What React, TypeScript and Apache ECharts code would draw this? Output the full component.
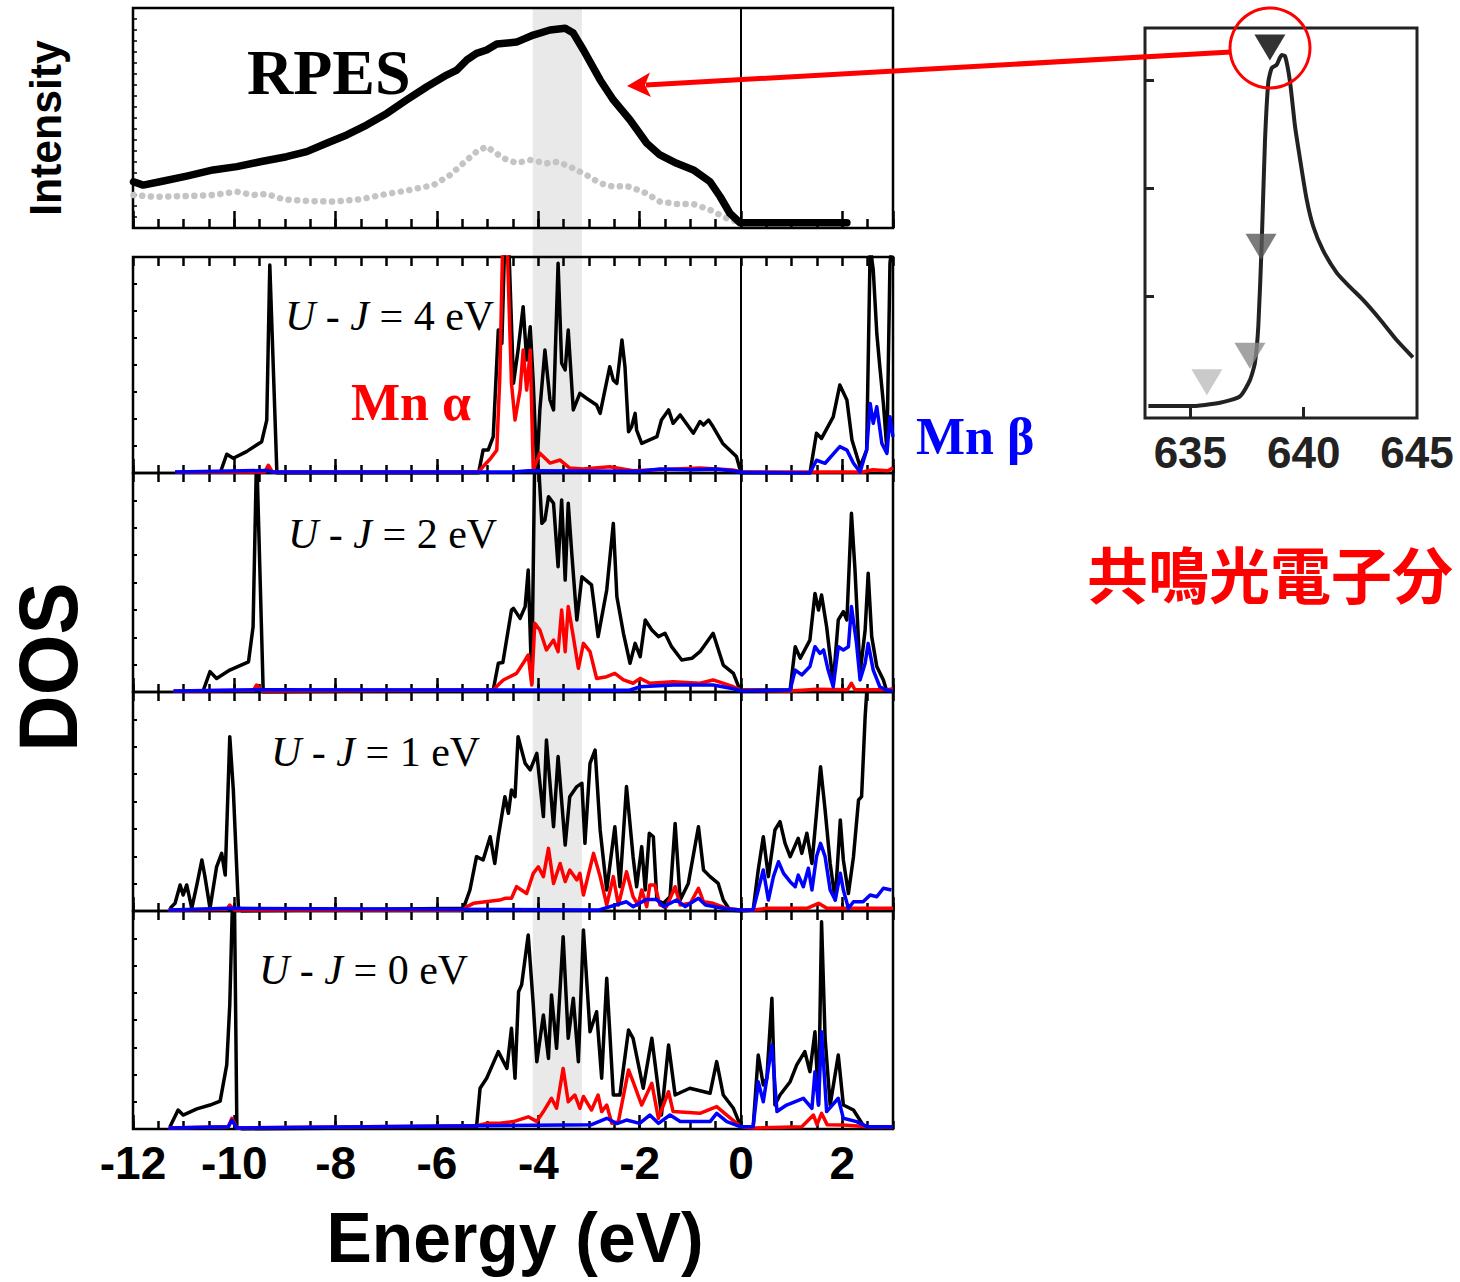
import React, { useEffect, useRef } from "react";
import * as echarts from "echarts";

// ---------------- data ----------------
const energyMin = -12;
const energyMax = 3;
const shadedBand = [-4.11, -3.14];

const rpesOnResonance = [
  [-11.99, 21.0], [-11.8, 19.5], [-11.47, 21.0], [-10.94, 23.6], [-10.42, 26.4], [-9.95, 27.9], [-9.49, 30.1],
  [-8.97, 32.4], [-8.57, 34.7], [-8.18, 38.5], [-7.78, 42.3], [-7.39, 46.8], [-6.99, 52.1], [-6.6, 58.2],
  [-6.2, 64.2], [-5.81, 69.5], [-5.61, 71.8], [-5.41, 76.4], [-5.22, 79.4], [-5.02, 80.9], [-4.82, 83.6],
  [-4.43, 84.5], [-4.1, 87.7], [-3.77, 90.0], [-3.47, 90.8], [-3.31, 88.6], [-3.11, 80.9], [-2.78, 67.3],
  [-2.52, 58.2], [-2.19, 49.1], [-1.86, 38.5], [-1.6, 33.2], [-1.27, 29.4], [-0.94, 26.4], [-0.61, 21.0],
  [-0.41, 14.2], [-0.22, 6.7], [-0.02, 2.4], [0.51, 2.4], [2.09, 2.4],
];
const rpesOffResonance = [
  [-11.99, 15.0], [-11.6, 14.2], [-10.94, 14.5], [-10.42, 15.0], [-9.95, 16.5], [-9.63, 15.0], [-9.36, 15.5],
  [-9.03, 13.0], [-8.57, 12.3], [-8.05, 12.0], [-7.52, 13.0], [-6.99, 15.5], [-6.6, 17.0], [-6.07, 19.5],
  [-5.74, 24.1], [-5.41, 30.9], [-5.22, 34.7], [-5.02, 37.0], [-4.69, 31.7], [-4.43, 29.5], [-4.16, 30.9],
  [-3.84, 29.4], [-3.61, 30.1], [-3.31, 27.1], [-3.05, 24.1], [-2.78, 20.3], [-2.52, 18.8], [-2.26, 19.1],
  [-1.93, 16.5], [-1.6, 12.0], [-1.27, 10.9], [-0.94, 10.9], [-0.61, 8.2], [-0.28, 4.4], [-0.03, 2.4],
];

// U - J = 4 eV
const dosU4Total = [
  [-10.28, 0], [-10.15, 8.7], [-10.02, 6.8], [-9.76, 9.9], [-9.46, 14.5], [-9.36, 24.5], [-9.3, 96.3], [-9.16, 0],
  [-5.18, 0], [-5.09, 10.6], [-4.99, 10.6], [-4.89, 16.8], [-4.79, 66.2], [-4.72, 60], [-4.66, 110], [-4.59, 110],
  [-4.49, 41.5], [-4.4, 56.9], [-4.3, 77], [-4.23, 52.3], [-4.16, 67.7], [-4.1, 41.6], [-4.03, 1.4], [-3.97, 29.2],
  [-3.87, 56.9], [-3.77, 33.8], [-3.7, 29.2], [-3.61, 97.1], [-3.54, 50.8], [-3.47, 47.7], [-3.41, 66.2],
  [-3.31, 29.2], [-3.18, 36.9], [-3.05, 34.6], [-2.85, 31.5], [-2.78, 27.6], [-2.59, 49.2], [-2.52, 43],
  [-2.45, 41.5], [-2.35, 61.6], [-2.29, 49.2], [-2.22, 19.1], [-2.16, 21.4], [-2.09, 27.6], [-2.06, 19.9],
  [-1.96, 13.7], [-1.66, 16.8], [-1.57, 24.5], [-1.43, 29.2], [-1.34, 23], [-1.2, 26.9], [-0.94, 18.4],
  [-0.81, 23.8], [-0.74, 22.2], [-0.64, 24.5], [-0.55, 21.4], [-0.36, 13.7], [-0.09, 7.6], [0, 0],
  [1.36, 0], [1.49, 18.4], [1.59, 16], [1.82, 26], [1.95, 40.7], [2.09, 33.8], [2.19, 15.3], [2.35, 2.9],
  [2.48, 10.6], [2.55, 105], [2.61, 94], [2.68, 64.7], [2.74, 49.2], [2.81, 32.2], [2.88, 10.6], [2.94, 97], [3.0, 110],
];
const dosU4MnA = [
  [-11.17, 0.5], [-9.4, 0.5], [-9.33, 3.6], [-9.25, 0.5], [-5.18, 0.5], [-5.09, 3], [-4.95, 6.5], [-4.82, 10.6],
  [-4.76, 44.6], [-4.7, 110], [-4.62, 110], [-4.53, 41.5], [-4.46, 24.5], [-4.36, 38.4], [-4.3, 56.9],
  [-4.23, 38.4], [-4.16, 56.9], [-4.1, 1.4], [-3.97, 9.2], [-3.77, 4.6], [-3.57, 6.0], [-3.38, 2.3],
  [-3.12, 1.9], [-2.59, 2.9], [-2.13, 1.0], [-0.81, 2.3], [-0.16, 1.4], [0, 0.5], [2.4, 0.5], [2.6, 1.5],
  [2.9, 1.0], [3.0, 2.5],
];
const dosU4MnB = [
  [-11.17, 0.5], [-9.35, 1.2], [-9.25, 0.5], [-4.5, 0.5], [-4.2, 1.0], [-2.0, 0.8], [-1.6, 1.8], [-1.0, 1.5],
  [-0.5, 1.8], [-0.1, 0.8], [0, 0.3], [1.36, 0], [1.49, 5.9], [1.66, 4.5], [1.95, 12.2], [2.09, 10.6],
  [2.22, 4.5], [2.35, 0.5], [2.48, 10.6], [2.55, 32.2], [2.61, 23], [2.68, 30.7], [2.78, 13.7], [2.88, 9.1],
  [2.94, 26], [3.0, 16.8],
];

// U - J = 2 eV
const dosU2Total = [
  [-10.61, 0.9], [-10.48, 9.3], [-10.35, 6.2], [-10.09, 10], [-9.72, 13.8], [-9.63, 29.8], [-9.56, 110], [-9.43, 0],
  [-4.89, 0.9], [-4.79, 13.1], [-4.7, 13.5], [-4.53, 37.4], [-4.49, 38.2], [-4.36, 33.6], [-4.26, 39],
  [-4.2, 55.7], [-4.13, 4], [-4.07, 110], [-4.01, 110], [-3.93, 77], [-3.87, 78.5], [-3.8, 89.2], [-3.7, 86.2],
  [-3.61, 57.2], [-3.54, 87.7], [-3.47, 51.1], [-3.41, 86.2], [-3.34, 63.3], [-3.24, 32.9], [-3.14, 52.6],
  [-2.95, 48.9], [-2.82, 25.3], [-2.65, 46.6], [-2.52, 77], [-2.45, 43.5], [-2.32, 26.8], [-2.19, 13.1],
  [-2.09, 22.2], [-1.99, 16.1], [-1.89, 32.9], [-1.76, 28.3], [-1.63, 25.3], [-1.5, 26.8], [-1.37, 20.7],
  [-1.17, 14.6], [-0.97, 15.4], [-0.81, 18.4], [-0.55, 26.8], [-0.35, 12.3], [-0.15, 8.5], [-0.02, 0.9],
  [0.97, 0.9], [1.07, 20.7], [1.17, 15.4], [1.36, 23.7], [1.46, 45], [1.53, 37.4], [1.59, 44.3], [1.69, 29.8],
  [1.82, 4], [1.92, 32.9], [2.02, 36.7], [2.09, 32.9], [2.18, 81.6], [2.25, 55.7], [2.35, 8.5], [2.45, 28.3],
  [2.51, 54.2], [2.58, 25.3], [2.68, 11.6], [2.81, 5.5], [2.87, 0.9],
];
const dosU2MnA = [
  [-11.2, 0.5], [-9.62, 0.8], [-9.56, 3.2], [-9.45, 0.5], [-4.89, 0.9], [-4.76, 4], [-4.69, 5.5], [-4.43, 8.5],
  [-4.3, 13.1], [-4.2, 16.9], [-4.13, 3.2], [-4.07, 31.4], [-3.97, 28.3], [-3.84, 19.2], [-3.7, 23.7],
  [-3.61, 18.4], [-3.54, 37.4], [-3.47, 18.4], [-3.41, 39], [-3.31, 25.3], [-3.21, 10.8], [-3.11, 22.2],
  [-2.98, 18.4], [-2.85, 6.2], [-2.65, 7], [-2.49, 8.5], [-2.32, 5.5], [-2.13, 4], [-1.99, 6.2], [-1.8, 4],
  [-1.34, 4.7], [-0.81, 4], [-0.55, 5.5], [-0.15, 2.4], [0, 0.9], [0.97, 0.5], [1.5, 1.2], [2.1, 1.0],
  [2.18, 4], [2.25, 1.0], [2.9, 1.0], [3.0, 1.5],
];
const dosU2MnB = [
  [-11.2, 0.5], [-9.56, 1], [-2.2, 0.8], [-1.99, 2.4], [-1.34, 3.2], [-0.55, 3.2], [-0.15, 1.5], [0, 0.5],
  [0.97, 0.9], [1.07, 10], [1.2, 7.8], [1.36, 11.6], [1.46, 20.7], [1.56, 17.6], [1.63, 19.2], [1.72, 10],
  [1.82, 2.4], [1.92, 20.7], [2.02, 19.2], [2.12, 20.7], [2.18, 39], [2.28, 22.2], [2.35, 5.5], [2.45, 13.1],
  [2.51, 22.2], [2.61, 10], [2.74, 2.4], [2.87, 0.9], [3.0, 0.5],
];

// U - J = 1 eV
const dosU1Total = [
  [-11.27, 1.2], [-11.17, 3.5], [-11.07, 11.9], [-11.01, 7.3], [-10.94, 11.9], [-10.84, 1.2], [-10.74, 11.9],
  [-10.64, 23.3], [-10.58, 15.7], [-10.48, 1.2], [-10.35, 20.2], [-10.25, 26.3], [-10.18, 16.4], [-10.09, 79.6],
  [-10.02, 55.3], [-9.92, 1.9], [-9.85, 0],
  [-5.48, 1.2], [-5.35, 9.6], [-5.22, 24.8], [-5.09, 23.3], [-4.95, 33.9], [-4.86, 21.7], [-4.79, 33.9],
  [-4.66, 52.2], [-4.59, 44.6], [-4.53, 55.3], [-4.46, 52.2], [-4.4, 79.6], [-4.26, 67.4], [-4.16, 64.4],
  [-4.03, 72], [-3.9, 43.1], [-3.84, 78.1], [-3.7, 38.5], [-3.61, 70.5], [-3.47, 30.1], [-3.38, 52.2],
  [-3.24, 56.8], [-3.14, 58.3], [-3.08, 30.9], [-2.98, 67.4], [-2.88, 73.5], [-2.78, 37], [-2.65, 9.6],
  [-2.49, 38.5], [-2.39, 11.1], [-2.26, 56.8], [-2.13, 24.8], [-2.06, 11.1], [-1.96, 29.4], [-1.89, 9.6],
  [-1.81, 35.5], [-1.73, 33.9], [-1.66, 5], [-1.53, 3.5], [-1.4, 6.5], [-1.3, 40], [-1.2, 5], [-1.04, 12.6],
  [-0.84, 38.5], [-0.74, 18.7], [-0.61, 15.7], [-0.45, 12.6], [-0.35, 5], [-0.22, 0.5], [0, 0],
  [0.24, 0.5], [0.34, 18.7], [0.44, 33.9], [0.54, 15.7], [0.67, 37], [0.77, 40.8], [0.87, 30.9], [0.97, 24.8],
  [1.03, 27.9], [1.13, 33.2], [1.2, 26.3], [1.3, 35.5], [1.4, 21.7], [1.49, 44.6], [1.57, 65.9], [1.66, 46.1],
  [1.76, 21.7], [1.86, 5], [1.96, 41.6], [2.02, 23.3], [2.12, 8], [2.22, 24.8], [2.32, 50.7], [2.38, 52.2],
  [2.45, 88.7], [2.51, 110], [3.0, 110],
];
const dosU1MnA = [
  [-11.3, 0.5], [-10.15, 0.8], [-10.09, 2.7], [-10.0, 0.5], [-5.48, 0.5], [-5.41, 2], [-5.28, 3.5], [-4.76, 5],
  [-4.66, 5.8], [-4.53, 5.8], [-4.43, 11.1], [-4.23, 8], [-4.1, 17.2], [-4.0, 20.2], [-3.9, 15.7], [-3.8, 28.6],
  [-3.7, 12.6], [-3.57, 21.7], [-3.47, 13.4], [-3.38, 18.7], [-3.24, 14.2], [-3.18, 17.2], [-3.11, 7.3],
  [-2.91, 26.3], [-2.78, 15.7], [-2.65, 2.7], [-2.52, 15.7], [-2.42, 2.7], [-2.26, 17.9], [-2.13, 6.5],
  [-2.03, 2.7], [-1.96, 9.6], [-1.86, 2], [-1.8, 11.9], [-1.7, 11.9], [-1.6, 2.7], [-1.47, 2], [-1.3, 11.1],
  [-1.2, 2.7], [-1.0, 3.5], [-0.84, 10.4], [-0.74, 4.2], [-0.55, 3.5], [-0.28, 1.2], [0, 0.5],
  [0.24, 0.5], [0.5, 1.2], [1.3, 1.2], [1.53, 3.5], [1.7, 1.2], [3.0, 1.2],
];
const dosU1MnB = [
  [-11.3, 0.5], [-10.1, 1.2], [-2.8, 0.5], [-2.26, 4.2], [-2.13, 2], [-1.86, 5.3], [-1.66, 5.3], [-1.53, 2],
  [-1.27, 5], [-1.1, 2], [-0.84, 5.8], [-0.7, 2.7], [-0.3, 1], [0, 0.5],
  [0.24, 0.5], [0.34, 9.6], [0.44, 18.7], [0.54, 5], [0.64, 15.7], [0.74, 22.5], [0.84, 17.2], [0.97, 13.4],
  [1.07, 11.1], [1.13, 16.4], [1.23, 11.1], [1.33, 19.5], [1.4, 9.6], [1.49, 24.8], [1.57, 30.9], [1.66, 24.8],
  [1.76, 9.6], [1.86, 5], [1.96, 17.2], [2.02, 9.6], [2.12, 1.2], [2.22, 4.2], [2.41, 4.2], [2.55, 7.3],
  [2.68, 6.5], [2.81, 10.4], [2.97, 9.6],
];

// U - J = 0 eV
const dosU0Total = [
  [-11.27, 1], [-11.11, 8.7], [-11.01, 6.4], [-10.74, 9.2], [-10.48, 11], [-10.28, 12.8], [-10.15, 29.4],
  [-10.09, 57], [-10.03, 110], [-10.0, 110], [-9.95, 1], [-9.85, 0],
  [-5.22, 1], [-5.15, 18.7], [-5.02, 23.3], [-4.79, 35.5], [-4.62, 27.8], [-4.53, 46.2], [-4.46, 23.3],
  [-4.39, 63], [-4.33, 66.1], [-4.2, 89], [-4.1, 56.9], [-4.03, 30.9], [-3.9, 52.3], [-3.8, 32.4], [-3.74, 61.5],
  [-3.64, 37], [-3.51, 88.2], [-3.41, 41.6], [-3.31, 60], [-3.21, 30.9], [-3.11, 91.3], [-2.98, 44.6],
  [-2.85, 53.8], [-2.75, 23.3], [-2.65, 69.1], [-2.52, 15.6], [-2.39, 15.6], [-2.22, 45.4], [-2.13, 41.6],
  [-1.93, 18.7], [-1.76, 41.6], [-1.66, 23.3], [-1.57, 6.4], [-1.43, 38.5], [-1.3, 15.6], [-1.01, 18.7],
  [-0.61, 16.4], [-0.48, 30.9], [-0.35, 15.6], [-0.15, 9.5], [0, 1],
  [0.24, 1], [0.34, 33.9], [0.44, 20.2], [0.51, 23.3], [0.61, 60], [0.67, 11], [0.77, 15.6], [0.97, 21.7],
  [1.1, 29.4], [1.26, 35.5], [1.36, 26.3], [1.46, 44.6], [1.53, 11], [1.59, 95.1], [1.66, 41.6], [1.76, 11],
  [1.92, 33.9], [2.02, 11], [2.22, 8.7], [2.41, 1.8], [2.5, 0.5],
];
const dosU0MnA = [
  [-11.3, 0.5], [-10.12, 1], [-10.05, 4.9], [-9.95, 0.5], [-5.22, 1.5], [-5.02, 2.6], [-4.76, 2.6], [-4.49, 3.4],
  [-4.2, 5.6], [-4.03, 3.5], [-3.9, 8], [-3.74, 14.1], [-3.64, 9.5], [-3.51, 27.8], [-3.41, 12.5], [-3.28, 15.6],
  [-3.18, 9.5], [-3.11, 14.9], [-2.95, 8.7], [-2.82, 15.6], [-2.75, 8], [-2.65, 11], [-2.55, 2.6], [-2.42, 3.4],
  [-2.22, 27.1], [-2.13, 21.7], [-1.96, 11], [-1.76, 21], [-1.63, 4.9], [-1.43, 17.1], [-1.34, 8], [-0.81, 7.2],
  [-0.48, 10.3], [-0.28, 6.4], [0, 1], [0.24, 0.5], [1.2, 1], [1.43, 6.4], [1.5, 2], [1.59, 7.2], [1.7, 2],
  [2.02, 1.8], [2.5, 1], [3.0, 1],
];
const dosU0MnB = [
  [-11.3, 0.5], [-10.12, 1], [-10.05, 4], [-9.95, 0.5], [-2.95, 2], [-2.65, 4.9], [-2.45, 2.5], [-2.26, 4.1],
  [-2.0, 2.6], [-1.8, 6.4], [-1.63, 2.6], [-1.4, 6.4], [-1.2, 3.4], [-0.61, 3.4], [-0.48, 7.2], [-0.28, 3.4],
  [0, 1], [0.24, 1], [0.34, 21.7], [0.44, 12.5], [0.54, 27.8], [0.61, 38.5], [0.71, 8], [0.9, 11], [1.23, 14.1],
  [1.4, 9.5], [1.46, 26.3], [1.53, 11], [1.59, 44.6], [1.69, 8], [1.92, 14.1], [2.02, 4.9], [2.28, 3.4],
  [2.5, 1], [3.0, 1],
];

const panelUJ = ["4", "2", "1", "0"];
const dosTotal = [dosU4Total, dosU2Total, dosU1Total, dosU0Total];
const dosMnAlpha = [dosU4MnA, dosU2MnA, dosU1MnA, dosU0MnA];
const dosMnBeta = [dosU4MnB, dosU2MnB, dosU1MnB, dosU0MnB];

// Mn L3 absorption (inset)
const xasPhotonEnergy = [
  633.15, 634.98, 636.31, 637.19, 637.63, 637.85, 638.0, 638.15, 638.29, 638.44, 638.59, 638.81, 639.03,
  639.18, 639.4, 639.62, 639.84, 640.13, 640.42, 640.85, 641.46, 642.04, 642.62, 643.37, 644.1, 644.82,
];
const xasIntensity = [
  -0.01, -0.01, 0.02, 0.08, 0.23, 0.39, 0.73, 1.5, 2.42, 2.98, 3.11, 3.14, 3.23,
  3.22, 2.98, 2.57, 2.27, 1.9, 1.65, 1.43, 1.22, 1.09, 0.97, 0.79, 0.6, 0.44,
];
const xasTickLabels = [635, 640, 645];
const xasTickMarks = [635, 640];
const xasYTicks = [1, 2, 3];
const markerPhoton = [638.51, 638.12, 637.63, 635.73];
const markerLevel = [3.3, 1.46, 0.455, 0.21];
const markerColor = ["#000000", "#5a5a5a", "#8c8c8c", "#bdbdbd"];

// ---------------- layout ----------------
const SANS = '"Liberation Sans", Arial, sans-serif';
const SERIF = '"Liberation Serif", "Times New Roman", serif';
const CJK = '"Noto Sans CJK JP", "Noto Sans CJK SC", sans-serif';
const PLOT_LEFT = 133;
const PLOT_WIDTH = 760;
const panelBoxes = [
  { top: 8, height: 220 },
  { top: 257, height: 216 },
  { top: 473, height: 219 },
  { top: 692, height: 219 },
  { top: 911, height: 218 },
];
const insetBox = { left: 1145, top: 28, width: 272, height: 390 };
const ujLabelPos = [
  [285, 316],
  [288, 534],
  [271, 752],
  [259, 970],
];

function buildOption() {
  const grid: any[] = panelBoxes.map((b) => ({
    left: PLOT_LEFT,
    top: b.top,
    width: PLOT_WIDTH,
    height: b.height,
    show: true,
    borderColor: "#000",
    borderWidth: 2.5,
    backgroundColor: "transparent",
  }));
  grid.push({
    left: insetBox.left,
    top: insetBox.top,
    width: insetBox.width,
    height: insetBox.height,
    show: true,
    borderColor: "#222",
    borderWidth: 3,
    backgroundColor: "transparent",
  });

  const tickLine = { color: "#000", width: 2.5 };
  const energyAxis = (gridIndex: number, position: string, interval: number, length: number, labels: boolean) => ({
    type: "value",
    gridIndex,
    position,
    min: energyMin,
    max: energyMax,
    interval,
    axisLine: { show: false, onZero: false },
    splitLine: { show: false },
    axisTick: { show: true, inside: true, length, lineStyle: tickLine },
    axisLabel: labels
      ? {
          show: true,
          showMaxLabel: false,
          margin: 11,
          color: "#000",
          fontFamily: SANS,
          fontWeight: "bold",
          fontSize: 46,
        }
      : { show: false },
  });

  const xAxis: any[] = [];
  xAxis.push(energyAxis(0, "bottom", 0.5, 9, false));
  xAxis.push(energyAxis(0, "bottom", 2, 17, false));
  for (let k = 0; k < 4; k++) {
    const g = k + 1;
    xAxis.push(energyAxis(g, "bottom", 0.5, 8, false));
    xAxis.push(energyAxis(g, "bottom", 2, 14, k === 3));
    xAxis.push(energyAxis(g, "top", 0.5, 9, false));
  }
  xAxis.push({
    type: "value",
    gridIndex: 5,
    position: "bottom",
    min: 633,
    max: 645,
    axisLine: { show: false, onZero: false },
    splitLine: { show: false },
    axisTick: { show: true, inside: true, length: 11, customValues: xasTickMarks, lineStyle: { color: "#222", width: 3 } },
    axisLabel: {
      show: true,
      customValues: xasTickLabels,
      margin: 12,
      color: "#222",
      fontFamily: SANS,
      fontWeight: "bold",
      fontSize: 44,
    },
  });
  const insetX = xAxis.length - 1;

  const yAxis: any[] = [];
  yAxis.push({
    type: "value",
    gridIndex: 0,
    position: "left",
    min: 0,
    max: 100,
    interval: 5,
    axisLine: { show: false, onZero: false },
    splitLine: { show: false },
    axisLabel: { show: false },
    axisTick: { show: true, inside: true, length: 4, lineStyle: { color: "#000", width: 1.5 } },
  });
  for (let k = 0; k < 4; k++) {
    yAxis.push({
      type: "value",
      gridIndex: k + 1,
      position: "left",
      min: 0,
      max: 100,
      interval: 12.5,
      axisLine: { show: false, onZero: false },
      splitLine: { show: false },
      axisLabel: { show: false },
      axisTick: { show: true, inside: true, length: 4, lineStyle: { color: "#000", width: 2 } },
    });
  }
  yAxis.push({
    type: "value",
    gridIndex: 5,
    position: "left",
    min: -0.12,
    max: 3.48,
    axisLine: { show: false, onZero: false },
    splitLine: { show: false },
    axisLabel: { show: false },
    axisTick: { show: true, inside: true, length: 9, customValues: xasYTicks, lineStyle: { color: "#222", width: 3 } },
  });

  const fermiLine = {
    silent: true,
    symbol: ["none", "none"],
    label: { show: false },
    lineStyle: { color: "#000", width: 2, type: "solid" },
    data: [{ xAxis: 0 }],
  };

  const series: any[] = [];
  series.push({
    type: "line",
    name: "off",
    xAxisIndex: 0,
    yAxisIndex: 0,
    data: rpesOffResonance,
    showSymbol: false,
    symbol: "none",
    lineStyle: { color: "#c4c4c4", width: 6.5, type: [0.1, 8.6], cap: "round" },
    z: 3,
    markLine: fermiLine,
  });
  series.push({
    type: "line",
    name: "RPES",
    xAxisIndex: 0,
    yAxisIndex: 0,
    data: rpesOnResonance,
    showSymbol: false,
    symbol: "none",
    lineStyle: { color: "#000", width: 7.5, join: "round", cap: "round" },
    z: 4,
  });
  for (let k = 0; k < 4; k++) {
    const xi = 2 + k * 3;
    const yi = k + 1;
    series.push({
      type: "line",
      xAxisIndex: xi,
      yAxisIndex: yi,
      data: dosTotal[k],
      showSymbol: false,
      symbol: "none",
      lineStyle: { color: "#000", width: 3.5, join: "round" },
      z: 3,
      markLine: fermiLine,
    });
    series.push({
      type: "line",
      xAxisIndex: xi,
      yAxisIndex: yi,
      data: dosMnAlpha[k],
      showSymbol: false,
      symbol: "none",
      lineStyle: { color: "#ff0000", width: 3.5, join: "round" },
      z: 4,
    });
    series.push({
      type: "line",
      xAxisIndex: xi,
      yAxisIndex: yi,
      data: dosMnBeta[k],
      showSymbol: false,
      symbol: "none",
      lineStyle: { color: "#0000ff", width: 3.5, join: "round" },
      z: 5,
    });
  }
  series.push({
    type: "line",
    xAxisIndex: insetX,
    yAxisIndex: 5,
    data: xasPhotonEnergy.map((e, i) => [e, xasIntensity[i]]),
    showSymbol: false,
    symbol: "none",
    smooth: 0.2,
    lineStyle: { color: "#222", width: 4, join: "round" },
    z: 3,
  });
  series.push({
    type: "scatter",
    xAxisIndex: insetX,
    yAxisIndex: 5,
    symbol: "triangle",
    symbolRotate: 180,
    symbolSize: [31, 26],
    data: markerPhoton.map((e, i) => ({ value: [e, markerLevel[i]], itemStyle: { color: markerColor[i] } })),
    z: 6,
  });

  const txt = (id: string, x: number, y: number, text: string, font: string, fill: string, extra: any = {}) => ({
    id,
    type: "text",
    x,
    y,
    z: 20,
    ...extra,
    style: {
      text,
      font,
      fill,
      textAlign: extra.align || "left",
      textVerticalAlign: "middle",
    },
  });

  const elements: any[] = [];
  elements.push(txt("intensity", 45, 128, "Intensity", `bold 45px ${SANS}`, "#000", { rotation: Math.PI / 2, align: "center", scaleX: 0.95 }));
  elements.push(txt("dos", 48, 667, "DOS", `bold 84px ${SANS}`, "#000", { rotation: Math.PI / 2, align: "center", scaleX: 0.93 }));
  elements.push(txt("energy", 515, 1238, "Energy (eV)", `bold 70px ${SANS}`, "#000", { align: "center", scaleX: 0.97 }));
  elements.push(txt("rpes", 247, 72, "RPES", `bold 64px ${SERIF}`, "#000"));
  elements.push(txt("mna", 351, 402, "Mn α", `bold 52px ${SERIF}`, "#ff0000"));
  elements.push(txt("mnb", 916, 436, "Mn β", `bold 52px ${SERIF}`, "#0000ff"));
  elements.push(txt("rpesjp", 1087, 572, "共鳴光電子分", `bold 61px ${CJK}`, "#ff0000"));
  panelUJ.forEach((v, i) => {
    elements.push({
      id: "uj" + i,
      type: "text",
      x: ujLabelPos[i][0],
      y: ujLabelPos[i][1],
      z: 20,
      style: {
        text: `{it|U} - {it|J} = ${v} eV`,
        font: `42px ${SERIF}`,
        fill: "#000",
        textAlign: "left",
        textVerticalAlign: "middle",
        rich: { it: { font: `italic 42px ${SERIF}`, fill: "#000" } },
      },
    });
  });
  elements.push({
    id: "arrowLine",
    type: "line",
    z: 30,
    shape: { x1: 1231, y1: 52, x2: 646, y2: 85 },
    style: { stroke: "#ff0000", lineWidth: 5 },
  });
  elements.push({
    id: "arrowHead",
    type: "polygon",
    z: 30,
    shape: { points: [[627, 86], [650, 72.5], [645, 85], [651, 97]] },
    style: { fill: "#ff0000" },
  });
  elements.push({
    id: "ring",
    type: "circle",
    z: 30,
    shape: { cx: 1270, cy: 48, r: 40 },
    style: { stroke: "#ff0000", lineWidth: 3, fill: "none" },
  });

  return {
    animation: false,
    backgroundColor: "#fff",
    grid,
    xAxis,
    yAxis,
    series,
    graphic: { elements },
  };
}

export default function App() {
  const ref = useRef<HTMLDivElement>(null);
  useEffect(() => {
    if (!ref.current) return;
    const chart = echarts.init(ref.current, undefined, { renderer: "svg" });
    chart.setOption(buildOption() as any);
    const x1 = chart.convertToPixel({ xAxisIndex: 0 } as any, shadedBand[0]) as number;
    const x2 = chart.convertToPixel({ xAxisIndex: 0 } as any, shadedBand[1]) as number;
    const yTop = chart.convertToPixel({ yAxisIndex: 0 } as any, 100) as number;
    const yBot = chart.convertToPixel({ yAxisIndex: 4 } as any, 0) as number;
    chart.setOption({
      graphic: {
        elements: [
          {
            id: "band",
            type: "rect",
            z: -1,
            shape: { x: x1, y: yTop, width: x2 - x1, height: yBot - yTop },
            style: { fill: "#e9e9e9" },
          },
        ],
      },
    } as any);
    return () => chart.dispose();
  }, []);
  return (
    <div
      ref={ref}
      style={{ position: "absolute", left: 0, top: 0, width: 1460, height: 1282, background: "#fff" }}
    />
  );
}
